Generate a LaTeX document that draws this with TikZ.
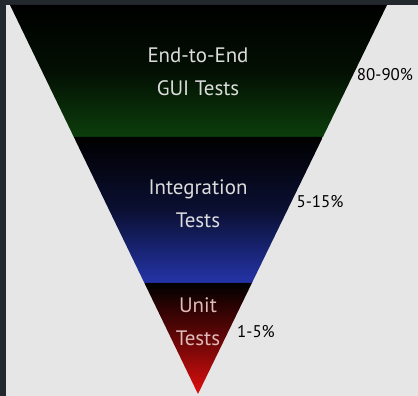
\documentclass[tikz,border=0pt]{standalone}
\usepackage{fontspec}
\setmainfont{PT Sans}
\definecolor{frame}{HTML}{23282E}
\definecolor{paper}{HTML}{E6E6E6}
\definecolor{bandgreen}{HTML}{0C3E0C}
\definecolor{bandblue}{HTML}{2434A8}
\definecolor{bandred}{HTML}{E00E0E}
\definecolor{intext}{HTML}{DCDCDC}
\begin{document}
\begin{tikzpicture}[x=1bp,y=1bp,
  intxt/.style={text=intext,align=center,font=\fontsize{21}{33}\selectfont,inner sep=0pt},
  pct/.style={text=black,font=\fontsize{17}{20}\selectfont,inner sep=0pt}]
\useasboundingbox (0,0) rectangle (418,396);
\fill[frame] (0,0) rectangle (418,396);
\fill[paper] (6,0) rectangle (418,391);
% top band
\shade[top color=black,bottom color=bandgreen,middle color=black!75!bandgreen] (10,391) -- (387,391) -- (322.9,259) -- (73.8,259) -- cycle;
% middle band
\shade[top color=black,bottom color=bandblue,middle color=black!70!bandblue] (73.8,259) -- (322.9,259) -- (251.9,113) -- (144.4,113) -- cycle;
% bottom band
\shade[top color=black,bottom color=bandred,middle color=black!55!bandred] (144.4,113) -- (251.9,113) -- (198,2) -- cycle;
\node[intxt] (e2e) at (198,324.5) {End-to-End\\GUI Tests};
\node[intxt] (integ) at (198,192.5) {Integration\\Tests};
\node[intxt,text=intext!85!red] (unit) at (198,74.5) {Unit\\Tests};
\node[pct] (p1) at (385,321) {80-90\%};
\node[pct] (p2) at (320,194) {5-15\%};
\node[pct] (p3) at (256,64) {1-5\%};
\end{tikzpicture}
\end{document}
